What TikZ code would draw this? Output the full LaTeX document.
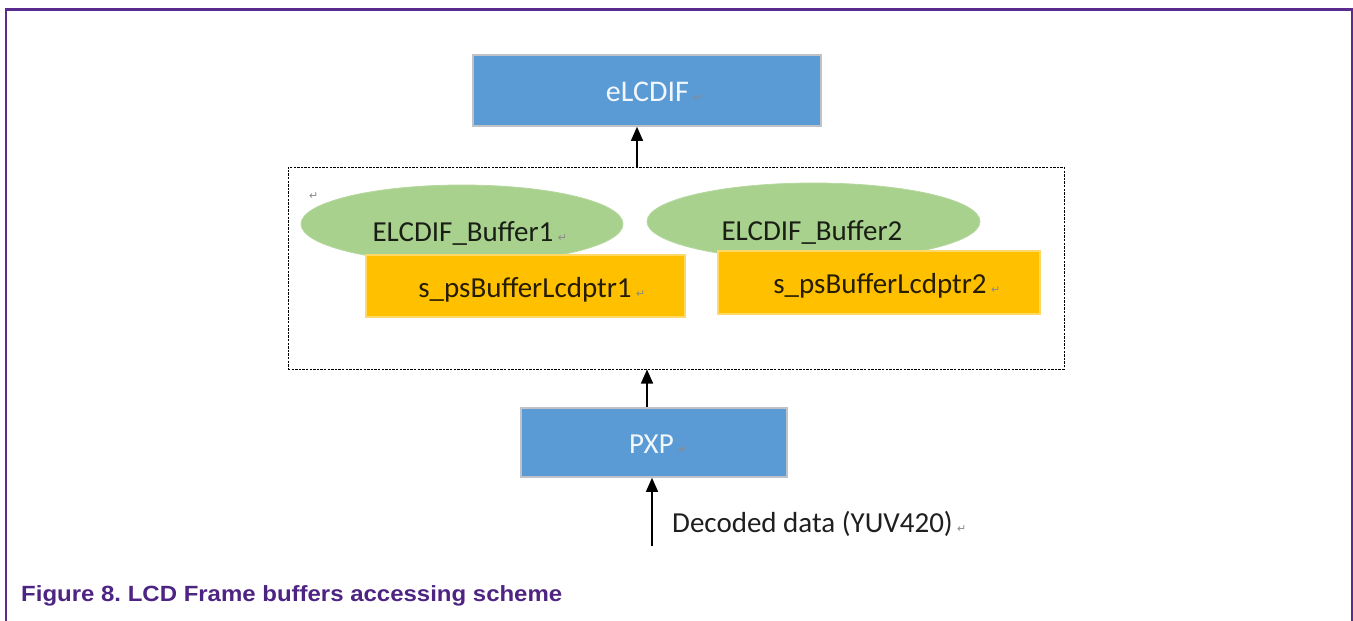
\documentclass[tikz,border=0pt]{standalone}
\usepackage{fontspec}
\setmainfont{Carlito}
\newfontfamily\capfont{Liberation Sans}
\newfontfamily\symfont{DejaVu Sans}
\usetikzlibrary{arrows.meta,shapes.geometric}

\definecolor{nxppurple}{HTML}{5B2C8F}
\definecolor{captext}{HTML}{4E2483}
\definecolor{blockblue}{HTML}{5B9BD5}
\definecolor{blockedge}{HTML}{BFC3C8}
\definecolor{buffgreen}{HTML}{A9D18E}
\definecolor{ptrorange}{HTML}{FFC000}
\definecolor{ptredge}{HTML}{FFD966}
\definecolor{markgray}{HTML}{8A8A8A}

\tikzset{
  block/.style={draw=blockedge, line width=1.6pt, fill=blockblue, inner sep=0pt},
  buffer/.style={ellipse, fill=buffgreen, draw=buffgreen!85!white, line width=0.8pt, inner sep=0pt},
  ptrbox/.style={fill=ptrorange, draw=ptredge, line width=1.4pt, inner sep=0pt},
  group/.style={draw=black, line width=1pt, dash pattern=on 2.4pt off 1.2pt, inner sep=0pt},
  lbl/.style={anchor=base, inner sep=0pt, font=\fontsize{29}{34}\selectfont},
  ret/.style={anchor=base west, inner sep=0pt, text=markgray, font=\symfont\fontsize{11}{13}\selectfont},
  arr/.style={line width=1.4pt, -{Triangle[length=14pt, width=12pt]}},
}

\begin{document}
\frenchspacing
\begin{tikzpicture}[x=1pt, y=-1pt]
  \useasboundingbox (0,0) rectangle (1353,621);

  % page frame, open at the bottom
  \draw[nxppurple, line width=2.6pt] (6,621) -- (6,9.5) -- (1352,9.5) -- (1352,621);

  % display controller
  \node[block, minimum width=348pt, minimum height=71pt] (elc) at (647,90.5) {};
  \node[lbl, text=white!92!blockblue, font=\fontsize{30}{34}\selectfont] (elct) at (647.5,101) {eLCDIF};
  \node[ret] at ([xshift=4pt]elct.base east) {↵};

  % frame buffer group
  \node[group, minimum width=776pt, minimum height=202pt] (fb) at (676,268) {};
  \node[ret] at (309,199) {↵};

  \node[buffer, minimum width=322pt, minimum height=78pt] (b1) at (462,224) {};
  \node[buffer, minimum width=333pt, minimum height=77pt] (b2) at (813.5,221.5) {};
  \node[lbl, text=black!85!buffgreen] (b1t) at (463,241) {ELCDIF\_Buffer1};
  \node[ret] at ([xshift=4pt]b1t.base east) {↵};
  \node[lbl, text=black!85!buffgreen] (b2t) at (812,240) {ELCDIF\_Buffer2};

  \node[ptrbox, minimum width=319pt, minimum height=62pt] (p1) at (525.5,286) {};
  \node[ptrbox, minimum width=322pt, minimum height=63pt] (p2) at (879,282.5) {};
  \node[lbl, text=black!85!ptrorange] (p1t) at (525,297) {s\_psBufferLcdptr1};
  \node[ret] at ([xshift=4pt]p1t.base east) {↵};
  \node[lbl, text=black!85!ptrorange] (p2t) at (880,293) {s\_psBufferLcdptr2};
  \node[ret] at ([xshift=4pt]p2t.base east) {↵};

  % pixel pipeline
  \node[block, minimum width=266pt, minimum height=69pt] (pxp) at (654,442.5) {};
  \node[lbl, text=white!92!blockblue] (pxpt) at (651.5,453) {PXP};
  \node[ret] at ([xshift=4pt]pxpt.base east) {↵};

  % input data
  \coordinate (src) at (652,546);
  \node[lbl, anchor=base west, text=black!88] (dec) at (672,532) {Decoded data (YUV420)};
  \node[ret] at ([xshift=4pt]dec.base east) {↵};

  % data flow
  \draw[arr] (src) -- (src |- pxp.south);
  \draw[arr] ([xshift=-7pt]pxp.north) -- ([xshift=-7pt]pxp.north |- fb.south);
  \draw[arr] ([xshift=-10pt]elc.south |- fb.north) -- ([xshift=-10pt]elc.south);

  % caption
  \node[anchor=base west, inner sep=0pt, text=captext, xscale=1.09, font=\capfont\bfseries\fontsize{22}{25}\selectfont] (cap) at (21,601) {Figure 8. LCD Frame buffers accessing scheme};
\end{tikzpicture}
\end{document}
